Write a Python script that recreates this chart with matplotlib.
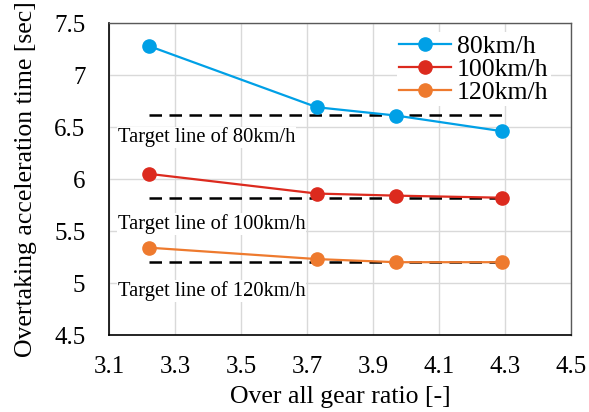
import matplotlib
matplotlib.use("Agg")
import matplotlib.pyplot as plt

plt.rcParams['font.family'] = ['Liberation Serif', 'DejaVu Serif']

gear_ratio = [3.22, 3.73, 3.97, 4.29]
t80 = [7.28, 6.69, 6.61, 6.46]
t100 = [6.05, 5.86, 5.84, 5.82]
t120 = [5.34, 5.23, 5.20, 5.20]
target_x = [3.22, 4.29]
target80 = 6.62
target100 = 5.82
target120 = 5.20
series_labels = ['80km/h', '100km/h', '120km/h']
target_labels = ['Target line of 80km/h', 'Target line of 100km/h', 'Target line of 120km/h']
xticks = [3.1, 3.3, 3.5, 3.7, 3.9, 4.1, 4.3, 4.5]
yticks = [4.5, 5, 5.5, 6, 6.5, 7, 7.5]
ytick_labels = ['4.5', '5', '5.5', '6', '6.5', '7', '7.5']

colors = ['#00A0E6', '#DC2A1E', '#EE7A2E']

fig = plt.figure(figsize=(5.89, 4.12), dpi=100)
ax = fig.add_axes([109/589, 1 - 335/412, 462/589, 312/412])

for yv in [target80, target100, target120]:
    ax.plot(target_x, [yv, yv], color='black', lw=1.8, ls=(0, (5, 3)), zorder=3)

for ys, c, lab in zip([t80, t100, t120], colors, series_labels):
    ax.plot(gear_ratio, ys, color=c, lw=1.6, marker='o', ms=9.5, label=lab, zorder=4)

text_y = [6.40, 5.567, 4.923]
for ty, lab in zip(text_y, target_labels):
    ax.text(3.127, ty, lab, fontsize=14.8, ha='left', va='center', zorder=2,
            bbox=dict(facecolor='white', edgecolor='none', pad=0.5))

ax.set_xlim(3.1, 4.5)
ax.set_ylim(4.5, 7.5)
ax.set_xticks(xticks)
ax.set_xticklabels([f'{v:.1f}' for v in xticks])
ax.set_yticks(yticks)
ax.set_yticklabels(ytick_labels)
ax.tick_params(axis='both', labelsize=18, length=0)
ax.tick_params(axis='y', pad=17)
ax.tick_params(axis='x', pad=15)
ax.grid(True, color='#D9D9D9', lw=1)
ax.set_axisbelow(True)
for s in ['left', 'bottom']:
    ax.spines[s].set_color('black')
    ax.spines[s].set_linewidth(1.2)
for s in ['top', 'right']:
    ax.spines[s].set_color('#595959')
    ax.spines[s].set_linewidth(1.0)

ax.set_xlabel('Over all gear ratio [-]', fontsize=18.5, labelpad=6)
ax.set_ylabel('Overtaking acceleration time [sec]', fontsize=18.5, labelpad=12)

leg = ax.legend(loc='upper right', bbox_to_anchor=(0.985, 1.012), fontsize=18.5, frameon=True,
                framealpha=1, edgecolor='none', borderpad=0.1, handlelength=2.0,
                labelspacing=0.0, handletextpad=0.25, fancybox=False)
leg.set_zorder(2.5)

fig.savefig('out.png', dpi=100)
